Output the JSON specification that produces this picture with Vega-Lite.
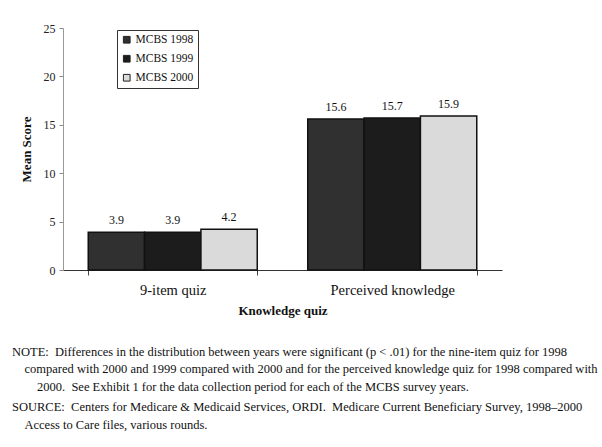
{
  "$schema": "https://vega.github.io/schema/vega-lite/v6.json",
  "autosize": {"type": "none"},
  "padding": {"left": 63, "top": 28, "right": 100, "bottom": 177},
  "width": 439,
  "height": 242,
  "background": "white",
  "config": {
    "font": "Liberation Serif",
    "view": {"stroke": null}
  },
  "title": {
    "text": [
      "NOTE:\u00a0\u00a0Differences in the distribution between years were significant (p < .01) for the nine-item quiz for 1998",
      "\u200b\u2003compared with 2000 and 1999 compared with 2000 and for the perceived knowledge quiz for 1998 compared with",
      "\u200b\u2003\u20032000.\u00a0\u00a0See Exhibit 1 for the data collection period for each of the MCBS survey years.\u200b"
    ],
    "subtitle": [
      "SOURCE:\u00a0\u00a0Centers for Medicare & Medicaid Services, ORDI.\u00a0\u00a0Medicare Current Beneficiary Survey, 1998\u20132000",
      "\u200b\u2003Access to Care files, various rounds."
    ],
    "orient": "bottom",
    "anchor": "start",
    "frame": "group",
    "dx": -51,
    "offset": 28,
    "font": "Liberation Serif",
    "fontSize": 12.5,
    "fontWeight": "normal",
    "color": "#111",
    "lineHeight": 17.5,
    "subtitleFont": "Liberation Serif",
    "subtitleFontSize": 12.5,
    "subtitleColor": "#111",
    "subtitleLineHeight": 17.5,
    "subtitlePadding": 8
  },
  "data": {
    "values": [
      {"quiz": "9-item quiz", "year": "MCBS 1998", "score": 3.9},
      {"quiz": "9-item quiz", "year": "MCBS 1999", "score": 3.9},
      {"quiz": "9-item quiz", "year": "MCBS 2000", "score": 4.2},
      {"quiz": "Perceived knowledge", "year": "MCBS 1998", "score": 15.6},
      {"quiz": "Perceived knowledge", "year": "MCBS 1999", "score": 15.7},
      {"quiz": "Perceived knowledge", "year": "MCBS 2000", "score": 15.9}
    ]
  },
  "encoding": {
    "x": {
      "field": "quiz",
      "type": "nominal",
      "sort": null,
      "scale": {"paddingInner": 0.23, "paddingOuter": 0.115},
      "axis": {
        "title": "Knowledge quiz",
        "titleFont": "Liberation Serif",
        "titleFontSize": 13,
        "titleFontWeight": "bold",
        "titleColor": "#111",
        "titlePadding": 8,
        "labelAngle": 0,
        "labelFont": "Liberation Serif",
        "labelFontSize": 14.5,
        "labelColor": "#111",
        "labelPadding": 8,
        "tickBand": "extent",
        "tickSize": 5,
        "tickColor": "#444",
        "domainColor": "#333",
        "grid": false
      }
    },
    "xOffset": {"field": "year", "type": "nominal", "sort": null},
    "y": {
      "field": "score",
      "type": "quantitative",
      "scale": {"domain": [0, 25], "nice": false},
      "axis": {
        "title": "Mean Score",
        "titleFont": "Liberation Serif",
        "titleFontSize": 13,
        "titleFontWeight": "bold",
        "titleColor": "#111",
        "titlePadding": 10,
        "values": [0, 5, 10, 15, 20, 25],
        "labelFont": "Liberation Serif",
        "labelFontSize": 12,
        "labelColor": "#222",
        "labelPadding": 4,
        "tickSize": 4,
        "tickColor": "#888",
        "domainColor": "#999",
        "grid": false
      }
    }
  },
  "layer": [
    {
      "mark": {"type": "bar", "stroke": "#111", "strokeWidth": 1.5},
      "encoding": {
        "color": {
          "field": "year",
          "type": "nominal",
          "sort": null,
          "scale": {"domain": ["MCBS 1998", "MCBS 1999", "MCBS 2000"], "range": ["#303030", "#1c1c1c", "#dadada"]},
          "legend": {
            "title": null,
            "orient": "none",
            "legendX": 54,
            "legendY": 2,
            "symbolType": "square",
            "symbolSize": 45,
            "symbolStrokeColor": "#222",
            "symbolStrokeWidth": 1,
            "labelFont": "Liberation Serif",
            "labelFontSize": 11.5,
            "labelOffset": 3,
            "labelColor": "#111",
            "rowPadding": 6,
            "padding": 4,
            "strokeColor": "#333",
            "fillColor": "white"
          }
        }
      }
    },
    {
      "mark": {"type": "text", "baseline": "bottom", "dy": -5, "fontSize": 12, "font": "Liberation Serif", "color": "#111"},
      "encoding": {
        "text": {"field": "score", "type": "quantitative", "format": ".1f"}
      }
    }
  ]
}
